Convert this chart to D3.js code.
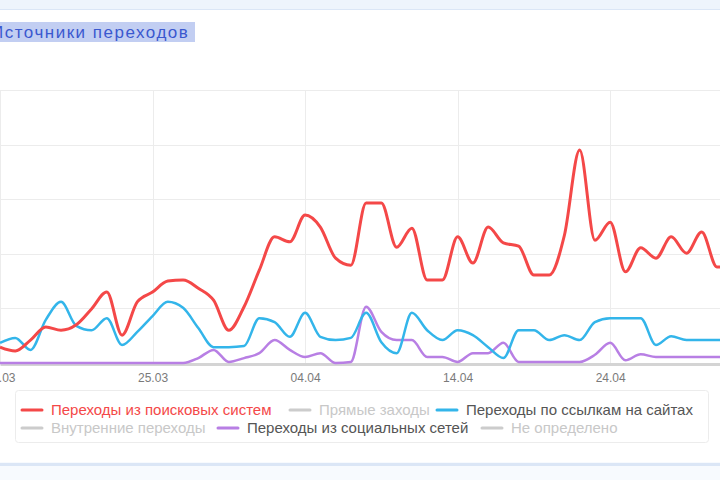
<!DOCTYPE html>
<html>
<head>
<meta charset="utf-8">
<script src="https://cdn.jsdelivr.net/npm/d3@7"></script>
<style>
  body { margin: 0; background: #fff; }
  svg { display: block; font-family: "Liberation Sans", Arial, sans-serif; }
</style>
</head>
<body>
<svg width="720" height="480"></svg>
<script>
// data (values per day, starting 15.03)
var tickDays = [0, 10, 20, 30, 40];
var tickLabels = ["15.03", "25.03", "04.04", "14.04", "24.04"];

var searchValues = [2.9, 2.2, 4.2, 6.6, 6.0, 7.0, 9.9, 13.0, 5.1, 11.2, 13.0, 15.0, 15.2, 13.7, 11.5, 6.0,
  10.3, 17.0, 23.1, 22.2, 27.1, 24.9, 19.2, 17.9, 29.3, 29.3, 21.2, 24.7, 15.2, 15.2, 23.1, 18.3,
  24.9, 22.0, 21.4, 16.1, 16.1, 23.4, 39.0, 22.5, 25.8, 16.7, 21.1, 19.2, 23.1, 20.1, 24.0, 17.6, 17.6];
var linkValues = [3.7, 4.6, 2.4, 7.9, 11.2, 6.8, 6.0, 8.2, 3.3, 5.7, 8.6, 11.2, 10.1, 6.4, 2.9, 2.9,
  3.1, 8.2, 7.5, 4.8, 9.2, 4.8, 4.2, 4.6, 9.2, 3.8, 1.8, 9.2, 6.0, 4.2, 6.0, 5.1,
  2.9, 0.9, 6.0, 6.0, 4.2, 5.1, 4.2, 7.5, 8.2, 8.2, 8.2, 3.3, 4.9, 4.2, 4.2, 4.2, 4.2];
var socialValues = [0, 0, 0, 0, 0, 0, 0, 0, 0, 0, 0, 0, 0, 0.9, 2.4, 0.2,
  0.9, 1.8, 4.2, 2.4, 1.1, 1.8, 0, 0.2, 10.3, 5.7, 4.2, 4.2, 1.1, 1.1, 0.2, 1.8,
  1.8, 3.7, 0.2, 0.2, 0.2, 0.2, 0.2, 1.5, 3.7, 0.5, 1.6, 1.1, 1.1, 1.1, 1.1, 1.1, 1.1];

var legendNames = ["Переходы из поисковых систем", "Прямые заходы", "Переходы по ссылкам на сайтах",
  "Внутренние переходы", "Переходы из социальных сетей", "Не определено"];
var legendColors = ["#f44848", "#cccccc", "#33b5ea", "#cccccc", "#b87fe4", "#cccccc"];
var legendActive = [true, false, true, false, true, false];

var svg = d3.select("svg");

// page bands
svg.append("rect").attr("x", 0).attr("y", 0).attr("width", 720).attr("height", 9).attr("fill", "#eef4fc");
svg.append("line").attr("x1", 0).attr("x2", 720).attr("y1", 9.5).attr("y2", 9.5).attr("stroke", "#dbe6f6");
svg.append("rect").attr("x", 0).attr("y", 462).attr("width", 720).attr("height", 18).attr("fill", "#f7fafe");
svg.append("line").attr("x1", 0).attr("x2", 720).attr("y1", 464.5).attr("y2", 464.5).attr("stroke", "#dbe6f6").attr("stroke-width", 3);

// title (selected)
svg.append("rect").attr("x", 0).attr("y", 22).attr("width", 195).attr("height", 20).attr("fill", "#c2cef2");
svg.append("text").attr("x", -9).attr("y", 37.5)
  .attr("font-size", 17).attr("fill", "#3a58cf").attr("letter-spacing", 1.5)
  .text("Источники переходов");

var x = d3.scaleLinear().domain([0, 47.2]).range([0, 720]);
var y = d3.scaleLinear().domain([0, 50]).range([363, 90]);

var g = svg.append("g");

// grid
g.append("g").selectAll("line").data(y.ticks(5).filter(function(d) { return d > 0; }))
  .enter().append("line")
  .attr("x1", 0).attr("x2", 720)
  .attr("y1", function(d) { return Math.round(y(d)) + 0.5; })
  .attr("y2", function(d) { return Math.round(y(d)) + 0.5; })
  .attr("stroke", "#ececec");
g.append("g").selectAll("line").data(tickDays)
  .enter().append("line")
  .attr("x1", function(d) { return Math.round(x(d)) + 0.5; })
  .attr("x2", function(d) { return Math.round(x(d)) + 0.5; })
  .attr("y1", 90).attr("y2", 363)
  .attr("stroke", "#ececec");

// x axis
var xAxis = d3.axisBottom(x).tickValues(tickDays)
  .tickFormat(function(d, i) { return tickLabels[i]; })
  .tickSize(0).tickPadding(9);
var ax = g.append("g").attr("transform", "translate(0,364)").call(xAxis);
ax.select(".domain").attr("stroke", "#d4d4d4").attr("stroke-width", 3);
ax.selectAll("text").attr("font-size", 12).attr("fill", "#7a7a7a").attr("font-family", "Liberation Sans, Arial, sans-serif");

// series
var line = d3.line()
  .x(function(d, i) { return x(i); })
  .y(function(d) { return y(d); })
  .curve(d3.curveMonotoneX);

[[socialValues, legendColors[4], 2.5], [linkValues, legendColors[2], 2.5], [searchValues, legendColors[0], 3]]
  .forEach(function(s) {
    g.append("path").datum(s[0])
      .attr("d", line)
      .attr("fill", "none")
      .attr("stroke", s[1])
      .attr("stroke-width", s[2])
      .attr("stroke-linejoin", "round");
  });

// legend
var legend = svg.append("g");
legend.append("rect").attr("x", 15.5).attr("y", 390.5).attr("width", 693).attr("height", 52).attr("rx", 3)
  .attr("fill", "#fff").attr("stroke", "#ececec");

var legendPos = [[22, 410], [290, 410], [437, 410], [22, 428], [218, 428], [482, 428]];
var items = legend.selectAll("g.item").data(legendNames).enter().append("g")
  .attr("class", "item")
  .attr("transform", function(d, i) { return "translate(" + legendPos[i][0] + "," + legendPos[i][1] + ")"; });
items.append("line").attr("x1", 0).attr("x2", 20).attr("y1", 0).attr("y2", 0)
  .attr("stroke", function(d, i) { return legendColors[i]; })
  .attr("stroke-width", 3).attr("stroke-linecap", "round");
items.append("text").attr("x", 29).attr("y", 5)
  .attr("font-size", 15)
  .attr("fill", function(d, i) { return i == 0 ? "#f44848" : (legendActive[i] ? "#555" : "#c8c8c8"); })
  .text(function(d) { return d; });
</script>
</body>
</html>
